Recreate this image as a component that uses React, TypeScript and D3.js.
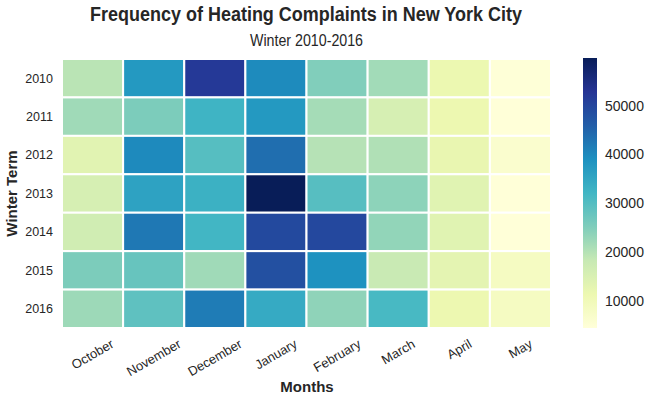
import React, { useEffect, useRef } from "react";
import * as d3 from "d3";

const months = ["October", "November", "December", "January", "February", "March", "April", "May"];
const terms = ["2010", "2011", "2012", "2013", "2014", "2015", "2016"];
const values2010 = [19500, 37600, 52000, 39800, 25000, 21800, 11500, 4700];
const values2011 = [22000, 25500, 32400, 37600, 21500, 15500, 11400, 4500];
const values2012 = [13500, 40000, 29800, 43800, 19900, 20500, 12100, 6300];
const values2013 = [15600, 35800, 33000, 59800, 29600, 23800, 13700, 4500];
const values2014 = [16600, 42400, 32000, 49400, 49500, 23300, 13700, 4500];
const values2015 = [25500, 27800, 22000, 48300, 38800, 17800, 13000, 8300];
const values2016 = [22300, 28800, 41900, 34300, 23600, 31300, 11400, 8300];
const colorTicks = [10000, 20000, 30000, 40000, 50000];
const ylgnbu = ["#ffffd9", "#edf8b1", "#c7e9b4", "#7fcdbb", "#41b6c4", "#1d91c0", "#225ea8", "#253494", "#081d58"];

const rows = [values2010, values2011, values2012, values2013, values2014, values2015, values2016];

export default function App() {
  const ref = useRef<SVGSVGElement>(null);
  useEffect(() => {
    const svg = d3.select(ref.current);
    svg.selectAll("*").remove();
    const font = "'Liberation Sans', Arial, sans-serif";
    const left = 62, right = 551, top = 59, bottom = 328;
    const vmin = 4400, vmax = 59800;
    const x = d3.scaleBand().domain(months).range([left, right]);
    const y = d3.scaleBand().domain(terms).range([top, bottom]);
    const color = d3.scaleLinear<string>()
      .domain(ylgnbu.map((_, i) => vmin + (i / (ylgnbu.length - 1)) * (vmax - vmin)))
      .range(ylgnbu)
      .interpolate(d3.interpolateRgb)
      .clamp(true);

    const cells = rows.flatMap((r, i) => r.map((v, j) => ({ term: terms[i], month: months[j], v })));
    svg.append("g").selectAll("rect").data(cells).join("rect")
      .attr("x", d => x(d.month)!)
      .attr("y", d => y(d.term)!)
      .attr("width", x.bandwidth())
      .attr("height", y.bandwidth())
      .attr("fill", d => color(d.v))
      .attr("stroke", "#fff")
      .attr("stroke-width", 2);

    // title
    svg.append("text").attr("x", 306).attr("y", 21).attr("text-anchor", "middle")
      .attr("font-family", font).attr("font-size", 19.5).attr("font-weight", "bold").attr("fill", "#262626")
      .attr("textLength", 432).attr("lengthAdjust", "spacingAndGlyphs")
      .text("Frequency of Heating Complaints in New York City");
    svg.append("text").attr("x", 306.5).attr("y", 45.5).attr("text-anchor", "middle")
      .attr("font-family", font).attr("font-size", 16).attr("fill", "#262626")
      .attr("textLength", 113).attr("lengthAdjust", "spacingAndGlyphs")
      .text("Winter 2010-2016");

    // y labels
    svg.append("g").selectAll("text").data(terms).join("text")
      .attr("x", 53).attr("y", d => y(d)! + y.bandwidth() / 2)
      .attr("dy", "0.35em").attr("text-anchor", "end")
      .attr("font-family", font).attr("font-size", 12.5).attr("fill", "#262626")
      .text(d => d);
    svg.append("text").attr("transform", `translate(17,${(top + bottom) / 2}) rotate(-90)`)
      .attr("text-anchor", "middle").attr("font-family", font).attr("font-size", 15)
      .attr("font-weight", "bold").attr("fill", "#262626").text("Winter Term");

    // x labels rotated 30 deg, bounding box top-aligned
    const fs = 13;
    const xg = svg.append("g");
    months.forEach(m => {
      const t = xg.append("text").attr("text-anchor", "middle").attr("dy", "0.35em")
        .attr("font-family", font).attr("font-size", fs).attr("fill", "#262626").text(m);
      const w = (t.node() as SVGTextElement).getComputedTextLength();
      const h = fs * 1.0;
      const a = Math.PI / 6;
      const cy = 337 + (w * Math.sin(a) + h * Math.cos(a)) / 2;
      const cx = x(m)! + x.bandwidth() / 2;
      t.attr("transform", `translate(${cx},${cy}) rotate(-30)`);
    });
    svg.append("text").attr("x", 307).attr("y", 392).attr("text-anchor", "middle")
      .attr("font-family", font).attr("font-size", 15).attr("font-weight", "bold").attr("fill", "#262626")
      .text("Months");

    // colorbar
    const cbx = 583, cbw = 14, cbTop = 58, cbBottom = 328;
    const cy = d3.scaleLinear().domain([vmin, vmax]).range([cbBottom, cbTop]);
    const defs = svg.append("defs");
    const grad = defs.append("linearGradient").attr("id", "cbgrad")
      .attr("x1", 0).attr("y1", 1).attr("x2", 0).attr("y2", 0);
    ylgnbu.forEach((c, i) => {
      grad.append("stop").attr("offset", i / (ylgnbu.length - 1)).attr("stop-color", c);
    });
    svg.append("rect").attr("x", cbx).attr("y", cbTop).attr("width", cbw).attr("height", cbBottom - cbTop)
      .attr("fill", "url(#cbgrad)");
    svg.append("g").selectAll("text").data(colorTicks).join("text")
      .attr("x", 605).attr("y", d => cy(d)).attr("dy", "0.35em")
      .attr("font-family", font).attr("font-size", 14).attr("fill", "#262626")
      .text(d => String(d));
  }, []);
  return (
    <svg ref={ref} width={652} height={402}
      style={{ position: "absolute", left: 0, top: 0, background: "#fff" }} />
  );
}
